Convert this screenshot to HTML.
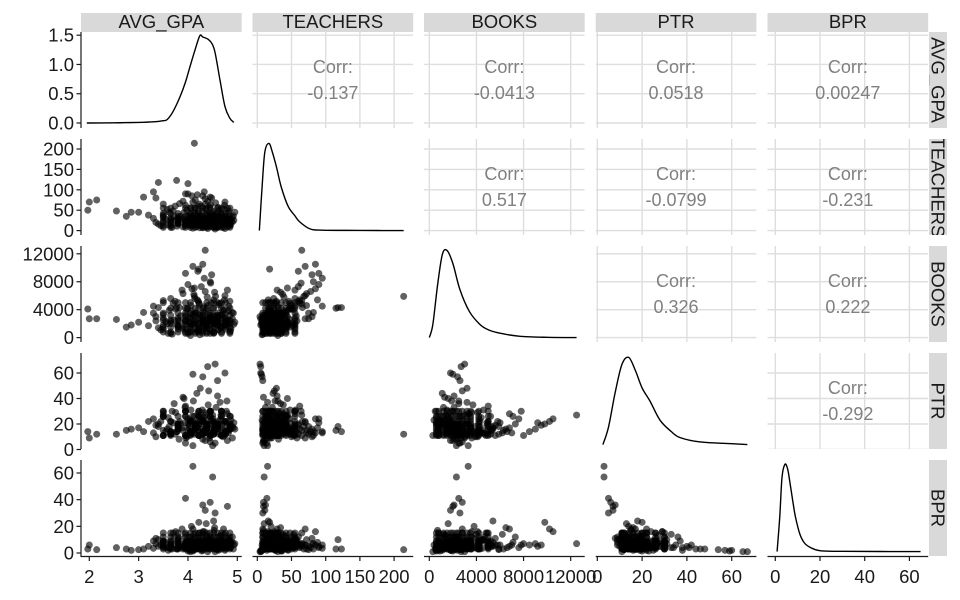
<!DOCTYPE html>
<html><head><meta charset="utf-8"><style>
html,body{margin:0;padding:0;background:#fff;}
svg{display:block;font-family:"Liberation Sans",Arial,sans-serif;}
</style></head><body>
<svg id="chart" width="960" height="600" viewBox="0 0 960 600" xmlns="http://www.w3.org/2000/svg"></svg>
<script>
// ---- data ----
const varNames = ["AVG_GPA","TEACHERS","BOOKS","PTR","BPR"];
const gpa = [1.97,2.0,2.15,2.55,2.75,2.85,3.0,3.1,3.2,3.3,3.35,3.4,4.13,3.77,4.0,4.35,4.1,4.5,4.4,4.55,4.3,4.1,3.95,4.3,4.45,4.35,4.8,4.55,4.1,4.3,4.2,3.95,4.6,4.75,
3.45,3.55,3.62,3.68,3.74,3.8,3.85,3.9,3.94,3.98,4.02,4.05,4.08,4.11,4.14,4.17,4.2,4.23,4.26,4.29,4.32,4.35,4.38,4.41,4.44,4.47,4.5,4.53,4.56,4.6,4.63,4.66,4.7,4.74,4.78,4.82,4.86,4.9,4.93,3.4,3.5,3.58,3.65,3.72,3.78,3.83,3.88,3.92,3.96,4.0,4.03,4.06,4.09,4.12,4.15,4.18,4.21,4.24,4.27,4.3,4.33,4.36,4.39,4.42,4.45,4.48,4.51,4.54,4.57,4.61,4.64,4.67,4.71,4.75,4.79,4.83,4.87,4.92,3.35,3.6,3.7,3.82,3.95,4.07,4.19,4.28,4.37,4.46,4.55,4.65,4.73,4.85,4.95,3.3,3.5,3.75,3.9,4.0,4.13,4.25,4.4,4.52,4.62,4.72,4.8,4.9,4.22,4.05,4.48,4.33,
3.65,3.8,3.95,4.05,4.15,4.22,4.3,4.38,4.45,4.52,4.6,4.68,4.76,4.85,3.5,
3.65,3.8,3.95,4.05,4.15,4.22,4.3,4.38,4.45,4.52,4.6,4.68,4.76,4.85,3.5,
3.65,3.8,3.95,4.05,4.15,4.22,4.3,4.38,4.45,4.52,4.6,4.68,4.76,4.85,3.5,
3.65,3.8,3.95,4.05,4.15,4.22,4.3,4.38,4.45,4.52,4.6,4.68,4.76,4.85,3.5,
3.65,3.8,3.95,4.05,4.15,4.22,4.3,4.38,4.45,4.52,4.6,4.68,4.76,4.85,3.5,
3.65,3.8,3.95,4.05,4.15,4.22,4.3,4.38,4.45,4.52,4.6,4.68,4.76,4.85,3.5,
3.65,3.8,3.95,4.05,4.15,4.22,4.3,4.38,4.45,4.52,4.6,4.68,4.76,4.85,3.5,
3.65,3.8,3.95,4.05,4.15,4.22,4.3,4.38,4.45,4.52,4.6,4.68,4.76,4.85,3.5];
const teachers = [50,70,75,48,35,45,45,82,38,95,80,118,214,123,115,65,15,10,5,4,7,6,14,12,9,11,9,8,70,85,60,90,8,5,
12,28,45,8,60,18,35,72,22,50,15,40,85,26,55,10,33,65,20,48,30,78,14,38,58,24,44,9,68,29,50,17,36,62,21,42,13,32,25,16,38,52,24,34,11,66,29,44,19,90,27,56,13,37,75,23,46,7,60,31,16,52,39,25,82,19,47,34,12,57,26,41,18,70,30,48,22,36,20,14,48,31,62,20,88,36,10,64,40,15,53,28,45,30,65,25,9,35,44,28,72,16,35,8,55,21,18,30,80,95,
12,20,28,35,8,42,16,24,55,31,18,
12,20,28,35,8,42,16,24,55,31,18,
12,20,28,35,8,42,16,24,55,31,18,
12,20,28,35,8,42,16,24,55,31,18,
12,20,28,35,8,42,16,24,55,31,18,
12,20,28,35,8,42,16,24,55,31,18,
12,20,28,35,8,42,16,24,55,31,18,
12,20,28,35,8,42,16,24,55,31,18,
12,20,28,35,8,42,16,24,55,31,18,
12,20,28,35,8,42,16,24,55,31,18,
12,20,28,35,8,42,16,24,55,31];
const books = [4100,2700,2700,2600,1500,1800,2200,3600,1700,4500,3000,4300,5900,4300,4200,12500,3300,2300,2700,3000,2400,2000,2500,2100,2800,1800,2000,2600,10200,10500,9500,9200,2600,1800,
1100,2300,3900,500,5200,1600,3100,6300,1200,4100,2200,2900,7000,1900,5600,800,3400,4800,2600,1500,4400,6600,1300,3700,2400,5000,3000,700,5900,2100,4700,1700,3300,5400,2000,3800,1000,2700,1900,1400,3300,2000,5600,2500,1800,4300,6800,1600,3000,7600,800,4600,2600,6200,3500,1100,5200,400,7300,2300,3600,1700,5800,2800,8000,900,4200,6500,2100,3100,4900,1400,3900,6000,2500,4500,1300,3500,2400,600,4900,2300,5000,3800,5400,900,1600,7800,2000,3200,4000,5200,2200,3500,5300,4100,1300,600,7100,3200,4600,5400,1100,2800,6800,3600,9800,300,9000,8500,
1500,2500,800,3500,2000,1200,4200,2800,600,1800,3200,5000,2300,
1500,2500,800,3500,2000,1200,4200,2800,600,1800,3200,5000,2300,
1500,2500,800,3500,2000,1200,4200,2800,600,1800,3200,5000,2300,
1500,2500,800,3500,2000,1200,4200,2800,600,1800,3200,5000,2300,
1500,2500,800,3500,2000,1200,4200,2800,600,1800,3200,5000,2300,
1500,2500,800,3500,2000,1200,4200,2800,600,1800,3200,5000,2300,
1500,2500,800,3500,2000,1200,4200,2800,600,1800,3200,5000,2300,
1500,2500,800,3500,2000,1200,4200,2800,600,1800,3200,5000,2300,
1500,2500,800,3500,2000,1200,4200,2800,600,1800,3200,5000,2300,
1500,2500,800];
const ptr = [14,9,12,12,15,16,17,14,22,13,10,18,12,14,15,27,3,3,65,67,57,59,5,8,6,7,7,5,22,24,19,21,54,60,
22,14,18,30,12,26,20,15,33,10,17,23,13,38,19,21,28,11,16,31,25,14,19,35,9,22,27,15,18,42,12,24,20,16,30,13,26,18,21,20,28,16,11,36,14,22,17,40,9,24,19,31,26,13,18,44,15,23,20,12,29,17,22,46,11,20,24,16,33,14,19,27,10,21,38,15,23,17,19,25,21,8,34,14,17,23,13,30,20,37,11,26,16,24,15,29,41,20,26,48,13,18,22,15,28,9,20,11,16,14,
14,18,11,22,16,26,12,20,30,
14,18,11,22,16,26,12,20,30,
14,18,11,22,16,26,12,20,30,
14,18,11,22,16,26,12,20,30,
14,18,11,22,16,26,12,20,30,
14,18,11,22,16,26,12,20,30,
14,18,11,22,16,26,12,20,30,
14,18,11,22,16,26,12,20,30,
14,18,11,22,16,26,12,20,30,
14,18,11,22,16,26,12,20,30,
14,18,11,22,16,26,12,20,30,
14,18,11,22,16,26,12,20,30,
14,18,11,22,16,26,12,20,30,
14,18,11];
const bpr = [3,6,2.5,4,3,2,2.5,3,5,3.5,11,10,2.5,3,3,7,65,57,1,1,2,1.5,41,36,38,32,35,30,18,16,6,5,2.5,2,
6,8,4,3,7,10,5,3,14,9,12,4,6,2,11,8,5,15,3,7,9,4,13,6,10,5,8,17,3,6,12,4,9,5,7,11,4,8,6,5,9,4,6,12,3,7,18,5,8,4,2,10,7,14,5,3,9,6,12,4,16,8,6,3,7,11,5,19,4,9,7,13,5,6,4,10,8,3,7,2,15,11,4,20,8,1.5,22,6,3,9,14,5,7,9,5,16,4,1.5,8,3,10,24,2,18,5,12,23,1,7,6,
5,9,3,7,12,4,8,15,5,9,3,7,12,4,8,15,5,9,3,7,12,4,8,15,5,9,3,7,12,4,8,15,
5,9,3,7,12,4,8,15,5,9,3,7,12,4,8,15,5,9,3,7,12,4,8,15,5,9,3,7,12,4,8,15,
5,9,3,7,12,4,8,15,5,9,3,7,12,4,8,15,5,9,3,7,12,4,8,15,5,9,3,7,12,4,8,15,
5,9,3,7,12,4,8,15,5,9,3,7,12,4,8,15,5,9,3,7,12,4,8,15];

// density curves (grid values and densities)
const gpaDensX = [1.95,2.5,3.0,3.3,3.5,3.58,3.7,3.84,3.95,4.04,4.14,4.24,4.3,4.41,4.49,4.55,4.65,4.75,4.85,4.93];
const gpaDensY = [0,0.003,0.01,0.02,0.04,0.06,0.2,0.45,0.7,0.96,1.24,1.49,1.47,1.43,1.35,1.2,0.73,0.28,0.08,0.01];
const teachDensX = [3,7,11,17,22,28,35,45,55,62,77,95,150,214];
const teachDensY = [0,0.5,0.9,1,0.9,0.73,0.5,0.28,0.17,0.1,0.02,0.005,0.002,0];
const booksDensX = [0,300,700,1100,1500,2000,2600,3400,4300,5000,6000,7700,10000,12500];
const booksDensY = [0,0.15,0.6,0.95,1,0.85,0.55,0.3,0.15,0.09,0.05,0.015,0.003,0];
const ptrDensX = [2.5,5,8,11,14,17,20,23.5,28,33,37,46,60,67];
const ptrDensY = [0,0.2,0.6,0.92,1,0.85,0.65,0.5,0.28,0.15,0.08,0.03,0.01,0];
const bprDensX = [0.8,2,3,4.3,5.5,6.5,8,9,11,13,15.5,20,30,65];
const bprDensY = [0,0.4,0.85,1,0.95,0.8,0.55,0.4,0.2,0.1,0.05,0.01,0.003,0];

const corrLabels = [
  [null,"-0.137","-0.0413","0.0518","0.00247"],
  [null,null,"0.517","-0.0799","-0.231"],
  [null,null,null,"0.326","0.222"],
  [null,null,null,null,"-0.292"]
];
const xTicks = [[2,3,4,5],[0,50,100,150,200],[0,4000,8000,12000],[0,20,40,60],[0,20,40,60]];
const yTicks = [[0,0.5,1,1.5],[0,50,100,150,200],[0,4000,8000,12000],[0,20,40,60],[0,20,40,60]];
const yTickLabels = [["0.0","0.5","1.0","1.5"],["0","50","100","150","200"],["0","4000","8000","12000"],["0","20","40","60"],["0","20","40","60"]];

// ---- layout ----
const NS="http://www.w3.org/2000/svg";
const svg=document.getElementById("chart");
const colX=[81,252.5,424,595.7,767.5], PW=160.7;
const rowY=[32,139,246,353,460], PH=96;
function lin(d0,d1,r0,r1){return v=>r0+(v-d0)*(r1-r0)/(d1-d0);}
const xs=[lin(2,5,89.3,237.3),lin(0,200,257.3,394.1),lin(0,12000,429.3,570.7),lin(0,60,597.3,731.7),lin(0,60,775.3,909.4)];
const ys=[lin(0,1.5,123,35.2),lin(0,200,230.6,149),lin(0,12000,337.6,253.8),lin(0,60,449.5,373),lin(0,60,553,473)];
const vars=[gpa,teachers,books,ptr,bpr];
const densX=[gpaDensX,teachDensX,booksDensX,ptrDensX,bprDensX];
const densY=[gpaDensY,teachDensY,booksDensY,ptrDensY,bprDensY];

function mk(tag,attrs,parent){const e=document.createElementNS(NS,tag);for(const k in attrs)e.setAttribute(k,attrs[k]);(parent||svg).appendChild(e);return e;}
function smoothPath(P){
  let d="M"+P[0][0].toFixed(2)+","+P[0][1].toFixed(2);
  for(let k=0;k<P.length-1;k++){
    const p0=P[Math.max(0,k-1)],p1=P[k],p2=P[k+1],p3=P[Math.min(P.length-1,k+2)];
    const c1x=p1[0]+(p2[0]-p0[0])/6, c1y=p1[1]+(p2[1]-p0[1])/6;
    const c2x=p2[0]-(p3[0]-p1[0])/6, c2y=p2[1]-(p3[1]-p1[1])/6;
    d+="C"+c1x.toFixed(2)+","+c1y.toFixed(2)+" "+c2x.toFixed(2)+","+c2y.toFixed(2)+" "+p2[0].toFixed(2)+","+p2[1].toFixed(2);
  }
  return d;
}

const defs=mk("defs",{});
for(let i=0;i<5;i++)for(let j=0;j<5;j++){
  const cp=mk("clipPath",{id:"cp"+i+"_"+j},defs);
  mk("rect",{x:colX[j],y:rowY[i],width:PW,height:PH},cp);
}
for(let i=0;i<5;i++){
  const cp=mk("clipPath",{id:"rs"+i},defs);
  mk("rect",{x:929,y:rowY[i],width:18,height:PH},cp);
}

// top strips
for(let j=0;j<5;j++){
  const g=mk("g",{});
  
  
  mk("rect",{x:colX[j],y:13,width:PW,height:19,fill:"#d9d9d9"},g);
  const t=mk("text",{x:colX[j]+PW/2,y:28,"text-anchor":"middle","font-size":"18.5",fill:"#1a1a1a"},g);
  t.textContent=varNames[j];
}
// right strips
for(let i=0;i<5;i++){
  const g=mk("g",{"clip-path":"url(#rs"+i+")"});
  
  
  mk("rect",{x:929,y:rowY[i],width:18,height:PH,fill:"#d9d9d9"},g);
  const cy=rowY[i]+PH/2;
  const t=mk("text",{x:0,y:0,transform:"translate(931.5,"+cy+") rotate(90)","text-anchor":"middle","font-size":"18.5",fill:"#1a1a1a"},g);
  t.textContent=varNames[i];
}

// panels
for(let i=0;i<5;i++)for(let j=0;j<5;j++){
  const g=mk("g",{"clip-path":"url(#cp"+i+"_"+j+")"});
  if(j>i){
    
    
    xTicks[j].forEach(v=>{const l=mk("line",{x1:xs[j](v),x2:xs[j](v),y1:rowY[i],y2:rowY[i]+PH,stroke:"#dedede","stroke-width":1.4},g);
      });
    yTicks[i].forEach(v=>{const l=mk("line",{x1:colX[j],x2:colX[j]+PW,y1:ys[i](v),y2:ys[i](v),stroke:"#dedede","stroke-width":1.4},g);
      });
    const cx=colX[j]+PW/2, cy=rowY[i]+PH/2;
    const t1=mk("text",{x:cx,y:cy-13,"text-anchor":"middle","dominant-baseline":"central","font-size":"18",fill:"#808080"},g);
    t1.textContent="Corr:";
    
    const t2=mk("text",{x:cx,y:cy+13,"text-anchor":"middle","dominant-baseline":"central","font-size":"18",fill:"#808080"},g);
    t2.textContent=corrLabels[i][j];
    
  } else if(i===j){
    
    
    let yf;
    if(i===0) yf=ys[0];
    else yf=lin(0,1,rowY[i]+PH-4.4,rowY[i]+4.4);
    const dx=densX[i], dy=densY[i];
    const P=dx.map((v,k)=>[xs[i](v),yf(dy[k])]);
    const p=mk("path",{d:smoothPath(P),fill:"none",stroke:"#000","stroke-width":1.4,"stroke-linejoin":"round"},g);
    
  } else {
    
    
    const X=vars[j], Y=vars[i];
    const n=Math.min(X.length,Y.length);
    for(let k=0;k<n;k++){
      const c=mk("circle",{cx:xs[j](X[k]).toFixed(2),cy:ys[i](Y[k]).toFixed(2),r:3.5,fill:"#000","fill-opacity":0.62},g);
      
      
    }
  }
}

// left axes
for(let i=0;i<5;i++){
  const g=mk("g",{});
  
  
  mk("line",{x1:81,x2:81,y1:rowY[i],y2:rowY[i]+PH+(i===4?1:0),stroke:"#1a1a1a","stroke-width":1.2},g);
  yTicks[i].forEach((v,k)=>{
    const y=ys[i](v);
    mk("line",{x1:76.5,x2:81,y1:y,y2:y,stroke:"#1a1a1a","stroke-width":1.2},g);
    const t=mk("text",{x:74,y:y,"text-anchor":"end","dominant-baseline":"central","font-size":"18.5",fill:"#1a1a1a"},g);
    t.textContent=yTickLabels[i][k];
    
  });
}
// bottom axes
for(let j=0;j<5;j++){
  const g=mk("g",{});
  
  
  const yb=rowY[4]+PH+0.5;
  mk("line",{x1:colX[j],x2:colX[j]+PW,y1:yb,y2:yb,stroke:"#1a1a1a","stroke-width":1.2},g);
  xTicks[j].forEach(v=>{
    const x=xs[j](v);
    mk("line",{x1:x,x2:x,y1:yb,y2:yb+4.5,stroke:"#1a1a1a","stroke-width":1.2},g);
    const t=mk("text",{x:x,y:583,"text-anchor":"middle","font-size":"18.5",fill:"#1a1a1a"},g);
    t.textContent=String(v);
    
  });
}
</script>
</body></html>
